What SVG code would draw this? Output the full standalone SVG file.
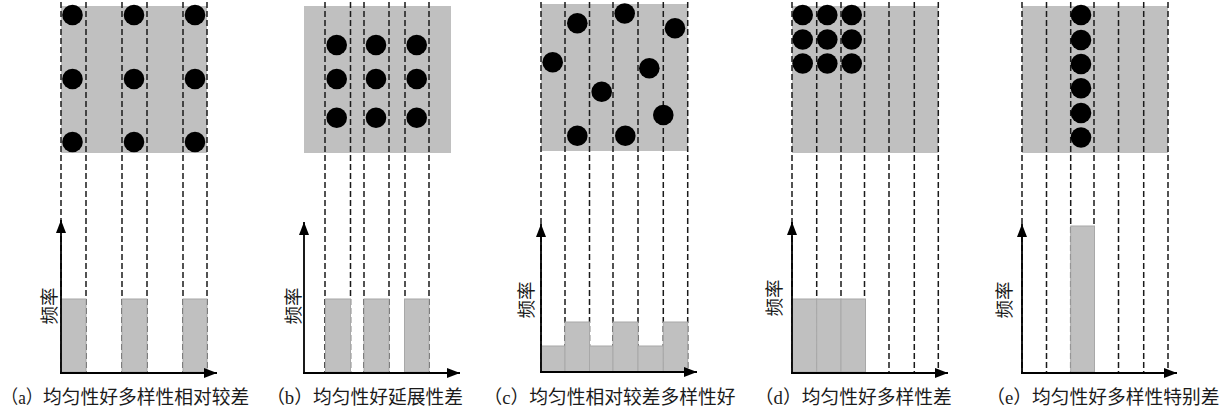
<svg xmlns="http://www.w3.org/2000/svg" width="1223" height="415" viewBox="0 0 1223 415">
<style>
.bg{fill:#c0c0c0;stroke:none}
.dash{stroke:#1a1a1a;stroke-width:1.5;stroke-dasharray:6 3;fill:none}
.dot{fill:#000}
.bar{fill:#c0c0c0;stroke:#a8a8a8;stroke-width:1}
.axis{stroke:#000;stroke-width:1.8;fill:none;marker-end:url(#arr)}
.cap{font-family:"Liberation Serif","Noto Sans CJK SC",serif;font-size:18.75px;fill:#1a1a1a}
.yl{font-family:"Noto Sans CJK SC",sans-serif;font-size:18.5px;fill:#1a1a1a;text-anchor:middle;dominant-baseline:central}
</style>
<defs>
<marker id="arr" markerUnits="userSpaceOnUse" markerWidth="14" markerHeight="12" viewBox="0 0 14 12" refX="13" refY="6" orient="auto">
<path d="M0,1 L13,6 L0,11 Z" fill="#000"/>
</marker>
</defs>

<g id="panel-a">
<rect class="bg" x="61" y="6" width="146" height="147"/>
<g class="dash"><line x1="61" y1="2" x2="61" y2="372"/><line x1="86" y1="2" x2="86" y2="372"/><line x1="122" y1="2" x2="122" y2="372"/><line x1="147" y1="2" x2="147" y2="372"/><line x1="183" y1="2" x2="183" y2="372"/><line x1="207" y1="2" x2="207" y2="372"/></g>
<g class="dot"><circle cx="72.5" cy="15" r="10.3"/><circle cx="134" cy="15" r="10.3"/><circle cx="195" cy="15" r="10.3"/><circle cx="72.5" cy="79" r="10.3"/><circle cx="134" cy="79" r="10.3"/><circle cx="195" cy="79" r="10.3"/><circle cx="72.5" cy="142" r="10.3"/><circle cx="134" cy="142" r="10.3"/><circle cx="195" cy="142" r="10.3"/></g>
<rect class="bar" x="61" y="299" width="25" height="73"/><rect class="bar" x="122" y="299" width="25" height="73"/><rect class="bar" x="183" y="299" width="24" height="73"/>
<line class="axis" x1="61" y1="373" x2="61" y2="220"/><line class="axis" x1="60" y1="373" x2="217" y2="373"/>
<text class="yl" transform="translate(48,306) rotate(-90)">频率</text>
<text class="cap" y="404"><tspan x="1" textLength="42" lengthAdjust="spacingAndGlyphs">（a）</tspan><tspan x="43">均匀性好多样性相对较差</tspan></text>
</g>

<g id="panel-b">
<rect class="bg" x="304" y="6" width="147" height="147"/>
<g class="dash"><line x1="325" y1="2" x2="325" y2="372"/><line x1="350.5" y1="2" x2="350.5" y2="372"/><line x1="364" y1="2" x2="364" y2="372"/><line x1="389" y1="2" x2="389" y2="372"/><line x1="405" y1="2" x2="405" y2="372"/><line x1="429" y1="2" x2="429" y2="372"/></g>
<g class="dot"><circle cx="336.7" cy="45" r="10.3"/><circle cx="376" cy="45" r="10.3"/><circle cx="416.7" cy="45" r="10.3"/><circle cx="336.7" cy="79" r="10.3"/><circle cx="376" cy="79" r="10.3"/><circle cx="416.7" cy="79" r="10.3"/><circle cx="336.7" cy="117.7" r="10.3"/><circle cx="376" cy="117.7" r="10.3"/><circle cx="416.7" cy="117.7" r="10.3"/></g>
<rect class="bar" x="325.5" y="299" width="25" height="73"/><rect class="bar" x="364" y="299" width="25" height="73"/><rect class="bar" x="404.5" y="299" width="24.5" height="73"/>
<line class="axis" x1="304" y1="373" x2="304" y2="222"/><line class="axis" x1="303" y1="373" x2="460" y2="373"/>
<text class="yl" transform="translate(292,306) rotate(-90)">频率</text>
<text class="cap" y="404"><tspan x="313" text-anchor="end">（b）</tspan><tspan x="313">均匀性好延展性差</tspan></text>
</g>

<g id="panel-c">
<rect class="bg" x="541" y="4" width="146.7" height="147"/>
<g class="dash"><line x1="541" y1="2" x2="541" y2="372"/><line x1="565" y1="2" x2="565" y2="372"/><line x1="589.5" y1="2" x2="589.5" y2="372"/><line x1="613" y1="2" x2="613" y2="372"/><line x1="638" y1="2" x2="638" y2="372"/><line x1="663.3" y1="2" x2="663.3" y2="372"/><line x1="687.7" y1="2" x2="687.7" y2="372"/></g>
<g class="dot"><circle cx="577.3" cy="23.3" r="10.3"/><circle cx="624.7" cy="13.5" r="10.3"/><circle cx="675" cy="28.3" r="10.3"/><circle cx="552.7" cy="62.3" r="10.3"/><circle cx="649.3" cy="68.3" r="10.3"/><circle cx="601.7" cy="91.7" r="10.3"/><circle cx="663.3" cy="115" r="10.3"/><circle cx="577.3" cy="135.7" r="10.3"/><circle cx="625.3" cy="135.7" r="10.3"/></g>
<rect class="bar" x="541" y="346" width="24" height="26"/><rect class="bar" x="565" y="322" width="24.5" height="50"/><rect class="bar" x="589.5" y="346" width="23.5" height="26"/><rect class="bar" x="613" y="322" width="25" height="50"/><rect class="bar" x="638" y="346" width="25.3" height="26"/><rect class="bar" x="663.3" y="322" width="24.4" height="50"/>
<line class="axis" x1="541" y1="372" x2="541" y2="224"/><line class="axis" x1="540" y1="372" x2="697" y2="372"/>
<text class="yl" transform="translate(525,300) rotate(-90)">频率</text>
<text class="cap" y="404"><tspan x="529.3" text-anchor="end">（c）</tspan><tspan x="529.3">均匀性相对较差多样性好</tspan></text>
</g>

<g id="panel-d">
<rect class="bg" x="792" y="6" width="146.3" height="147"/>
<g class="dash"><line x1="792" y1="2" x2="792" y2="372"/><line x1="816.7" y1="2" x2="816.7" y2="372"/><line x1="841" y1="2" x2="841" y2="372"/><line x1="864.5" y1="2" x2="864.5" y2="372"/><line x1="889" y1="2" x2="889" y2="372"/><line x1="914.3" y1="2" x2="914.3" y2="372"/><line x1="938.3" y1="2" x2="938.3" y2="372"/></g>
<g class="dot"><circle cx="802.7" cy="15" r="10.3"/><circle cx="827.3" cy="15" r="10.3"/><circle cx="851.7" cy="15" r="10.3"/><circle cx="802.7" cy="39.5" r="10.3"/><circle cx="827.3" cy="39.5" r="10.3"/><circle cx="851.7" cy="39.5" r="10.3"/><circle cx="802.7" cy="63.5" r="10.3"/><circle cx="827.3" cy="63.5" r="10.3"/><circle cx="851.7" cy="63.5" r="10.3"/></g>
<rect class="bar" x="792" y="299" width="24.7" height="73"/><rect class="bar" x="816.7" y="299" width="24.3" height="73"/><rect class="bar" x="841" y="299" width="24.5" height="73"/>
<line class="axis" x1="792" y1="373" x2="792" y2="222"/><line class="axis" x1="791" y1="373" x2="948" y2="373"/>
<text class="yl" transform="translate(773,298) rotate(-90)">频率</text>
<text class="cap" y="404"><tspan x="801.7" text-anchor="end">（d）</tspan><tspan x="801.7">均匀性好多样性差</tspan></text>
</g>

<g id="panel-e">
<rect class="bg" x="1022" y="6" width="146" height="147"/>
<g class="dash"><line x1="1022" y1="2" x2="1022" y2="372"/><line x1="1046.5" y1="2" x2="1046.5" y2="372"/><line x1="1070.7" y1="2" x2="1070.7" y2="372"/><line x1="1094" y1="2" x2="1094" y2="372"/><line x1="1118.5" y1="2" x2="1118.5" y2="372"/><line x1="1143.7" y1="2" x2="1143.7" y2="372"/><line x1="1168" y1="2" x2="1168" y2="372"/></g>
<g class="dot"><circle cx="1081" cy="15" r="10.3"/><circle cx="1081" cy="40" r="10.3"/><circle cx="1081" cy="64" r="10.3"/><circle cx="1081" cy="88.3" r="10.3"/><circle cx="1081" cy="113" r="10.3"/><circle cx="1081" cy="137.5" r="10.3"/></g>
<rect class="bar" x="1070.7" y="226" width="23.8" height="146"/>
<line class="axis" x1="1022" y1="373" x2="1022" y2="224"/><line class="axis" x1="1021" y1="373" x2="1177" y2="373"/>
<text class="yl" transform="translate(1003,300) rotate(-90)">频率</text>
<text class="cap" y="404"><tspan x="1032" text-anchor="end">（e）</tspan><tspan x="1032">均匀性好多样性特别差</tspan></text>
</g>
</svg>
